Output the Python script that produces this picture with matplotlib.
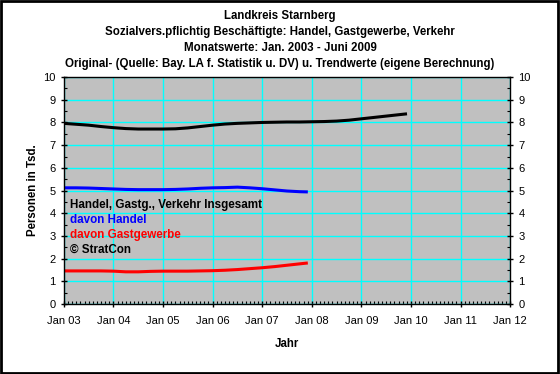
import numpy as np
import matplotlib
matplotlib.use('Agg')
import matplotlib.pyplot as plt
from matplotlib.patches import Rectangle

plt.rcParams['font.family'] = ['Liberation Sans', 'DejaVu Sans']

# quarterly trend values (Tsd.), last point = Dec of the final year
x_total = [2003.0, 2003.25, 2003.5, 2003.75, 2004.0, 2004.25, 2004.5, 2004.75,
           2005.0, 2005.25, 2005.5, 2005.75, 2006.0, 2006.25, 2006.5, 2006.75,
           2007.0, 2007.25, 2007.5, 2007.75, 2008.0, 2008.25, 2008.5, 2008.75,
           2009.0, 2009.25, 2009.5, 2009.75, 2009.92]
total = [7.96, 7.92, 7.88, 7.82, 7.77, 7.73, 7.71, 7.71,
         7.71, 7.72, 7.76, 7.82, 7.88, 7.93, 7.96, 7.98,
         8.00, 8.01, 8.02, 8.02, 8.03, 8.04, 8.06, 8.10,
         8.16, 8.22, 8.28, 8.34, 8.38]

x_sub = [2003.0, 2003.25, 2003.5, 2003.75, 2004.0, 2004.25, 2004.5, 2004.75,
         2005.0, 2005.25, 2005.5, 2005.75, 2006.0, 2006.25, 2006.5, 2006.75,
         2007.0, 2007.25, 2007.5, 2007.75, 2007.92]
handel = [5.12, 5.12, 5.11, 5.09, 5.07, 5.05, 5.04, 5.04,
          5.04, 5.05, 5.07, 5.10, 5.12, 5.13, 5.15, 5.12,
          5.08, 5.03, 4.98, 4.95, 4.94]
gast = [1.46, 1.46, 1.46, 1.46, 1.45, 1.42, 1.42, 1.44,
        1.45, 1.45, 1.45, 1.46, 1.47, 1.49, 1.52, 1.56,
        1.60, 1.65, 1.71, 1.77, 1.81]

years = list(range(2003, 2013))
year_labels = ['Jan %02d' % (y % 100) for y in years]

titles = ['Landkreis Starnberg',
          'Sozialvers.pflichtig Beschäftigte: Handel, Gastgewerbe, Verkehr',
          'Monatswerte: Jan. 2003 - Juni 2009',
          'Original- (Quelle: Bay. LA f. Statistik u. DV) u. Trendwerte (eigene Berechnung)']

fig = plt.figure(figsize=(5.6, 3.74), dpi=100)
fig.patch.set_facecolor('white')
fig.patches.append(Rectangle((0.002, 0.003), 0.995, 0.994, transform=fig.transFigure,
                             fill=False, edgecolor='black', linewidth=2))

ax = fig.add_axes([0.114, 0.187, 0.797, 0.607])
ax.set_facecolor('#c0c0c0')
ax.set_xlim(2003, 2012)
ax.set_ylim(0, 10)

ax.set_xticks(years)
ax.set_xticklabels(year_labels)
ax.set_xticks(np.arange(2003, 2012, 1 / 12), minor=True)
ax.set_yticks(range(0, 11))
ax.set_yticks(np.arange(0, 10, 0.5), minor=True)
ax.grid(True, which='major', color='#00ffff', linewidth=1)
ax.set_axisbelow(True)

ax.tick_params(axis='both', which='major', direction='inout', length=5, width=1,
               labelsize=8, colors='black')
ax.tick_params(axis='both', which='minor', direction='in', length=2, width=0.8)
ax.tick_params(axis='y', right=True, labelright=True)
ax.tick_params(axis='y', which='minor', right=True)
ax.tick_params(axis='x', pad=6)
for s in ax.spines.values():
    s.set_color('black')
    s.set_linewidth(1)

ax.plot(x_total, total, color='black', linewidth=2.2, solid_capstyle='butt')
ax.plot(x_sub, handel, color='#0000ff', linewidth=2.2, solid_capstyle='butt')
ax.plot(x_sub, gast, color='#ff0000', linewidth=2.2, solid_capstyle='butt')

ax.set_xlabel('Jahr', fontsize=8.3, fontweight='bold', labelpad=9)
ax.set_ylabel('Personen in Tsd.', fontsize=8.3, fontweight='bold', labelpad=3)

legend_rows = [('Handel, Gastg., Verkehr Insgesamt', 'black'),
               ('davon Handel', '#0000ff'),
               ('davon Gastgewerbe', '#ff0000'),
               ('\u00a9 StratCon', 'black')]
for i, (txt, col) in enumerate(legend_rows):
    ax.text(0.013, 0.436 - i * 0.065, txt, color=col, fontsize=8.4,
            fontweight='bold', transform=ax.transAxes, va='center')

for i, t in enumerate(titles):
    fig.text(0.5, 0.957 - i * 0.043, t, ha='center', va='center',
             fontsize=8.3, fontweight='bold')

fig.savefig('out.png', dpi=100)
